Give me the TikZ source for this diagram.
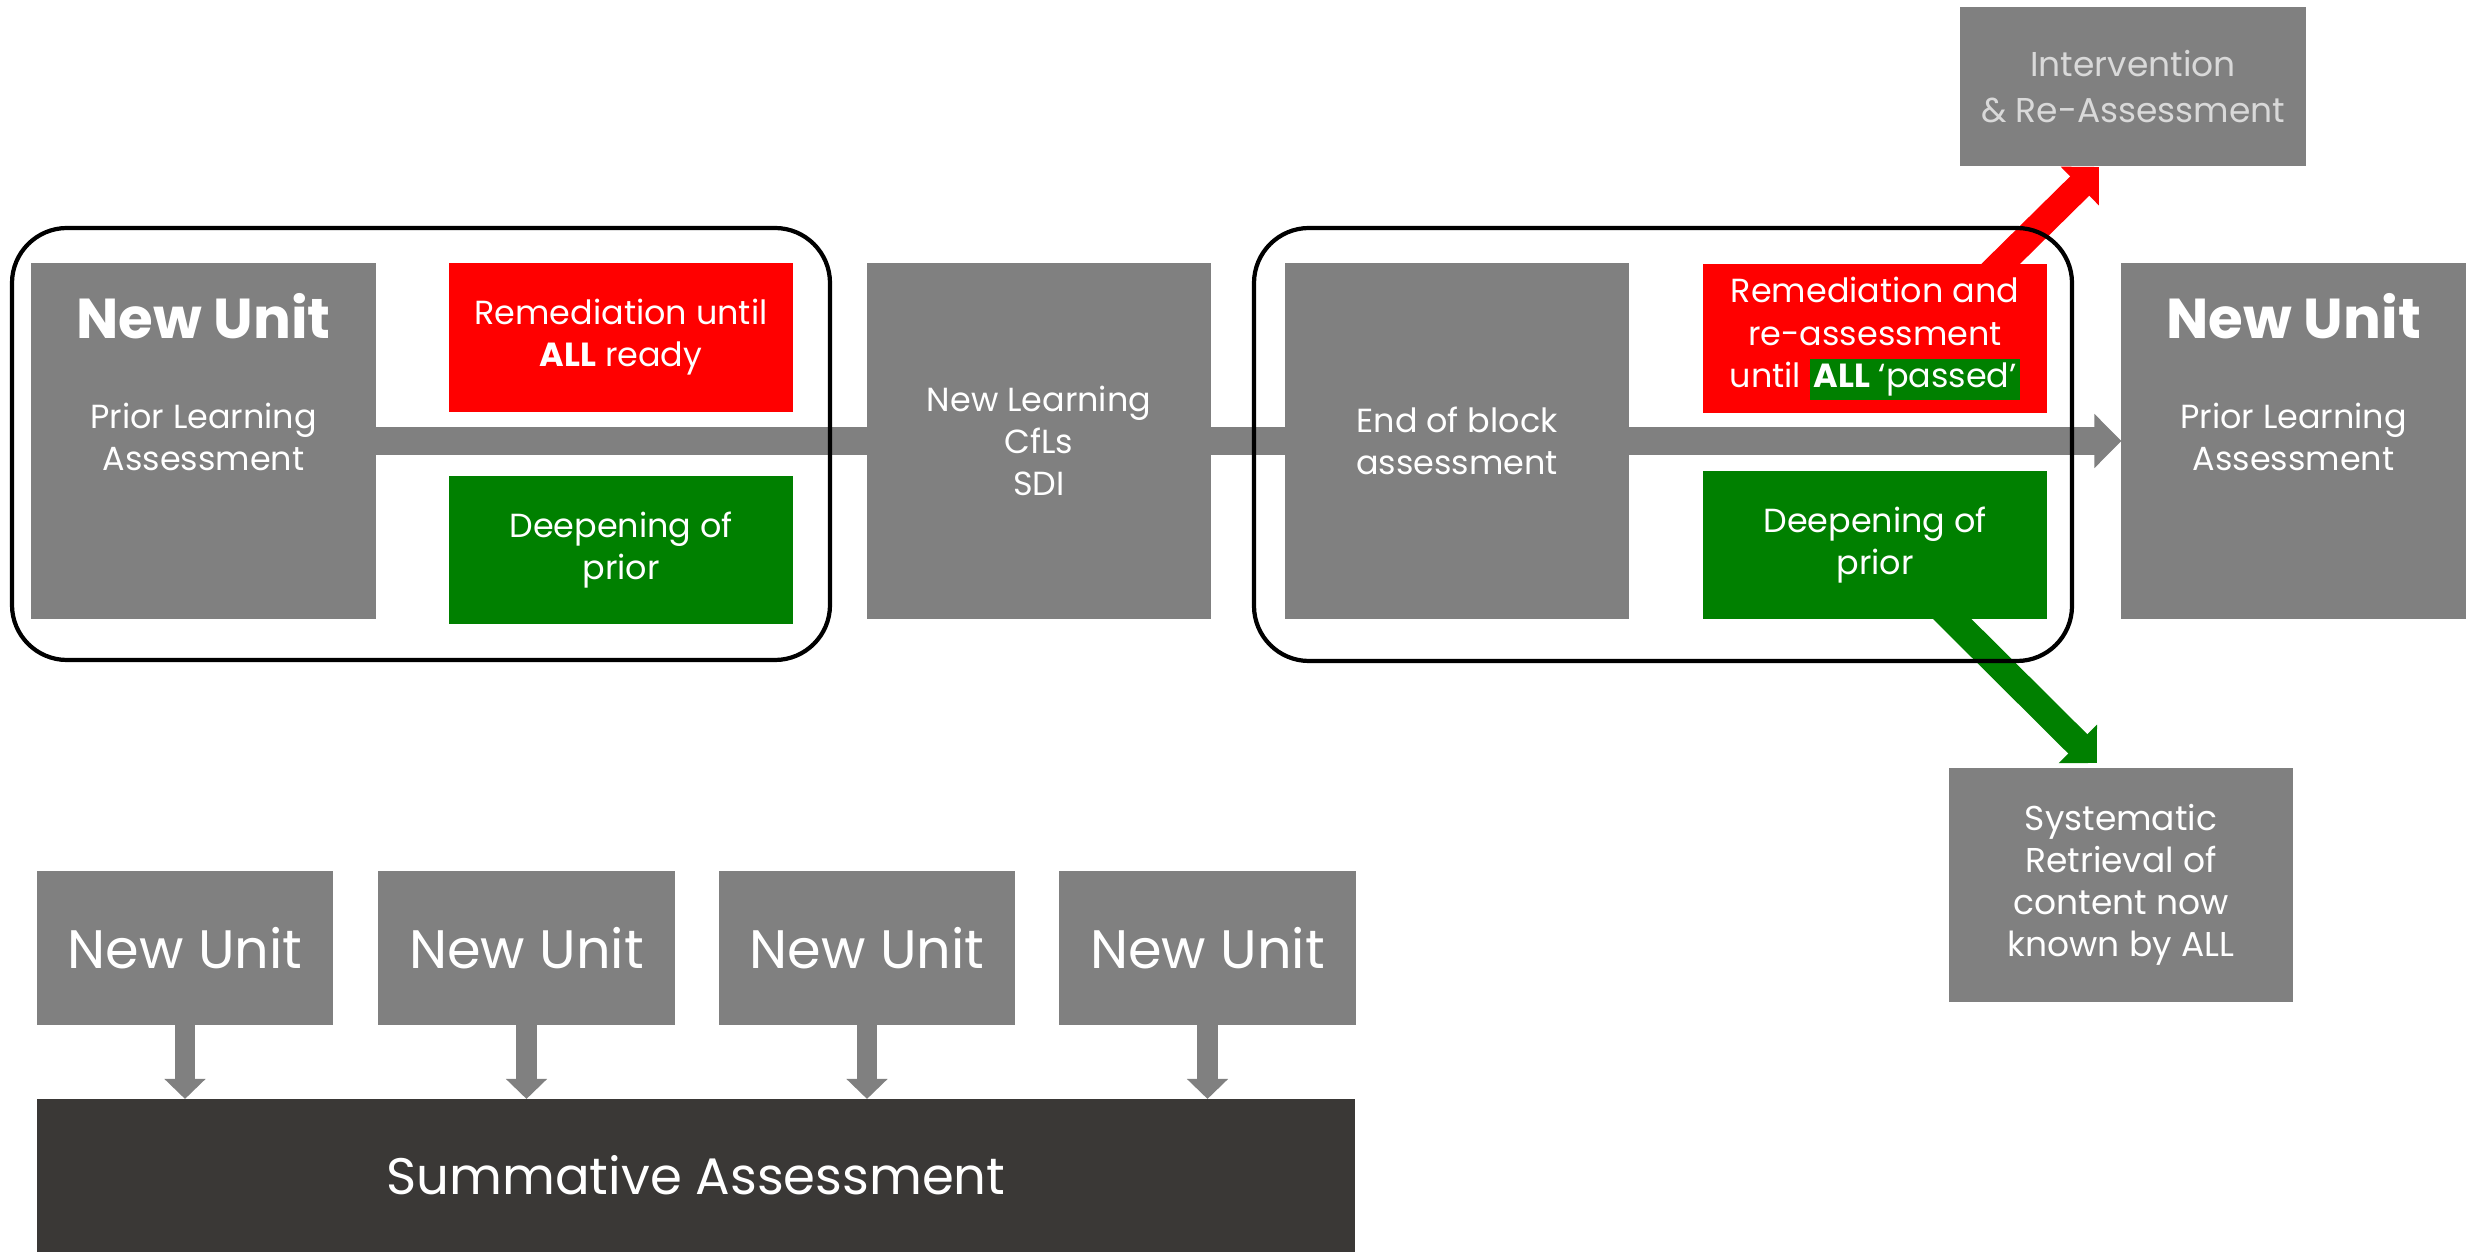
\documentclass[tikz,border=0pt]{standalone}
\usepackage{fontspec}
\setmainfont{Poppins}
\usetikzlibrary{arrows.meta,backgrounds}
\definecolor{boxgrey}{RGB}{128,128,128}
\definecolor{boxred}{RGB}{255,0,0}
\definecolor{boxgreen}{RGB}{0,128,0}
\definecolor{sumdark}{RGB}{58,56,54}
\definecolor{fadetext}{RGB}{217,217,217}

\begin{document}
\begin{tikzpicture}[x=0.01cm, y=-0.01cm]
\tikzstyle{every node} = [inner sep=0, outer sep=0, text=white, align=center, font=\fontsize{9.5}{12}\selectfont]
\tikzstyle{tallbox} = [fill=boxgrey, minimum width=3.44cm, minimum height=3.56cm]
\tikzstyle{redbox} = [fill=boxred, minimum width=3.43cm, minimum height=1.48cm]
\tikzstyle{greenbox} = [fill=boxgreen, minimum width=3.43cm, minimum height=1.48cm]
\tikzstyle{sidebox} = [fill=boxgrey, minimum width=3.46cm]
\tikzstyle{unitbox} = [fill=boxgrey, minimum width=2.96cm, minimum height=1.54cm, font=\fontsize{15.4}{18}\selectfont]
\tikzstyle{title} = [font=\fontsize{16}{19}\selectfont\bfseries]
\tikzstyle{flow} = [draw=boxgrey, line width=7.7pt, -{Triangle[width=15pt,length=7.7pt]}]
\tikzstyle{redarrow} = [draw=boxred, line width=7.7pt, -{Triangle[width=15pt,length=7.7pt]}]
\tikzstyle{greenarrow} = [draw=boxgreen, line width=7.7pt, -{Triangle[width=15pt,length=7.7pt]}]
\tikzstyle{down} = [draw=boxgrey, line width=5.7pt, -{Triangle[width=11.4pt,length=5.7pt]}]
\tikzstyle{block} = [draw=black, line width=1.2pt, rounded corners=0.55cm]
\useasboundingbox (0,0) rectangle (2469,1252);
\node[tallbox] (nu1) at (203.5,441) {};
\node[title] (nu1title) at (203.5,316) {New Unit};
\node[] (nu1sub) at (203.5,437) {Prior Learning\\Assessment};
\node[redbox] (red1) at (621,337.5) {Remediation until\\\textbf{ALL} ready};
\node[greenbox] (grn1) at (621,550) {Deepening of\\prior};
\node[tallbox] (nl) at (1039,441) {New Learning\\CfLs\\SDI};
\node[tallbox] (eob) at (1457,441) {End of block\\assessment};
\node[redbox] (red2) at (1875,338.5) {Remediation and\\re-assessment\\until {\setlength\fboxsep{1pt}\colorbox{boxgreen}{\textbf{ALL} `passed'}}};
\node[greenbox] (grn2) at (1875,545) {Deepening of\\prior};
\node[tallbox] (nuR) at (2293.5,441) {};
\node[title] (nuRtitle) at (2293.5,316) {New Unit};
\node[] (nuRsub) at (2293.5,437) {Prior Learning\\Assessment};
\node[sidebox, minimum height=1.59cm, text=fadetext, font=\fontsize{9.8}{13}\selectfont] (ivn) at (2133,86.5) {Intervention\\\& Re-Assessment};
\node[sidebox, minimum width=3.44cm, minimum height=2.34cm, font=\fontsize{9.8}{12}\selectfont] (sys) at (2121,885) {Systematic\\Retrieval of\\content now\\known by ALL};
\node[unitbox] (bu1) at (185,948) {New Unit};
\node[unitbox] (bu2) at (526.5,948) {New Unit};
\node[unitbox] (bu3) at (867,948) {New Unit};
\node[unitbox] (bu4) at (1207.5,948) {New Unit};
\node[fill=sumdark, minimum width=13.18cm, minimum height=1.53cm, font=\fontsize{14.6}{18}\selectfont] (sa) at (696,1175.5) {Summative Assessment};
\coordinate (redfoot) at (1960,304);
\coordinate (redtip) at (2099,167);
\coordinate (greenfoot) at (1912,579);
\coordinate (greentip) at (2097,763);
\begin{scope}[on background layer]
\draw[flow] (nu1) -- (nuR);
\draw[redarrow] (redfoot) -- (redtip);
\draw[greenarrow] (greenfoot) -- (greentip);
\end{scope}
\draw[down] (bu1.south) -- (bu1.south |- sa.north);
\draw[down] (bu2.south) -- (bu2.south |- sa.north);
\draw[down] (bu3.south) -- (bu3.south |- sa.north);
\draw[down] (bu4.south) -- (bu4.south |- sa.north);
\draw[block] (12,228) rectangle (830,660);
\draw[block] (1254,228) rectangle (2072,661);
\end{tikzpicture}
\end{document}
